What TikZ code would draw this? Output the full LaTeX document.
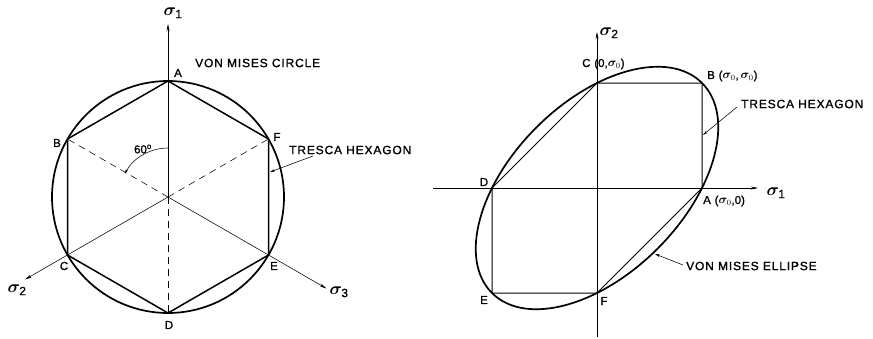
\documentclass[tikz,border=0pt]{standalone}
\usepackage{fontspec}
\usepackage{bm}
\setmainfont[FakeBold=1.2]{Liberation Sans}
\newfontfamily\lab[LetterSpace=7,FakeBold=1.2]{Liberation Sans}
\usetikzlibrary{arrows.meta}
\newcommand\sg[1]{$\bm{\sigma}_{\mathrm{#1}}$}
\begin{document}
\begin{tikzpicture}[x=1pt,y=-1pt,
  circ/.style={line width=1.7pt},
  hexL/.style={line width=1.5pt, line join=round},
  hexR/.style={line width=1pt, line join=round},
  axis/.style={line width=0.55pt},
  dashaxis/.style={line width=0.55pt, dash pattern=on 7pt off 5pt},
  tip/.style={-{Stealth[length=7pt,width=3pt]}},
  smalltip/.style={-{Stealth[length=5pt,width=2.5pt]}},
  ptlab/.style={font=\fontsize{11.5}{13}\selectfont, inner sep=0pt},
  caption/.style={font=\lab\fontsize{12}{14}\selectfont, inner sep=0pt, anchor=west},
  sig/.style={font=\fontsize{17}{19}\selectfont, inner sep=0pt},
]
\useasboundingbox (0,0) rectangle (873,338);

% ---------------- left: deviatoric plane ----------------
\coordinate (O) at (168,197);
\coordinate (A) at (168,81);
\coordinate (B) at (67.5,139);
\coordinate (C) at (67.5,255);
\coordinate (D) at (168,313);
\coordinate (E) at (268.5,255);
\coordinate (F) at (268.5,139);
\coordinate (s1tip) at (168,24);
\coordinate (s2tip) at (25,279.5);
\coordinate (s3tip) at (326.5,288.5);

\draw[circ] (O) circle[radius=116pt];
\draw[hexL] (A) -- (B) -- (C) -- (D) -- (E) -- (F) -- cycle;

\draw[axis,tip] (O) -- (s1tip);
\draw[dashaxis] (O) -- (D);
\draw[dashaxis] (O) -- (B);
\draw[dashaxis] (O) -- (F);
\draw[axis,tip] (O) -- (s2tip);
\draw[axis,tip] (O) -- (s3tip);

\draw[axis,smalltip] (168,148) arc[start angle=90,end angle=152,radius=49pt];
\node[ptlab] (ang) at (143,149) {60\textsuperscript{o}};

\node[sig] (l1) at (173,13) {\sg{1}};
\node[sig] (l2) at (17,290) {\sg{2}};
\node[sig] (l3) at (339,292) {\sg{3}};

\node[ptlab] (lA) at (178,73) {A};
\node[ptlab] (lB) at (57,143) {B};
\node[ptlab] (lC) at (64,266) {C};
\node[ptlab] (lD) at (169,325) {D};
\node[ptlab] (lE) at (274,266) {E};
\node[ptlab] (lF) at (277,137) {F};

\node[caption] (vmc) at (195,63) {VON MISES CIRCLE};
\node[caption] (trL) at (289,150) {TRESCA HEXAGON};
\coordinate (trLs) at (313,156);
\coordinate (trLe) at (270,172);
\draw[axis,smalltip] (trLs) -- (trLe);

% ---------------- right: plane stress ----------------
\coordinate (P) at (597,188);
\coordinate (RA) at (702,188);
\coordinate (RB) at (702,83);
\coordinate (RC) at (597,83);
\coordinate (RD) at (492,188);
\coordinate (RE) at (492,293);
\coordinate (RF) at (597,293);
\coordinate (x0) at (433,188);
\coordinate (x1) at (758,188);
\coordinate (y0) at (597,337);
\coordinate (y1) at (597,32);

\draw[axis,tip] (x0) -- (x1);
\draw[axis,tip] (y0) -- (y1);
\draw[hexR] (RA) -- (RB) -- (RC) -- (RD) -- (RE) -- (RF) -- cycle;
\draw[circ] (P) ellipse[x radius=148.5pt, y radius=85.7pt, rotate=45];

\node[sig] (r1) at (776,193) {\sg{1}};
\node[sig] (r2) at (609,33) {\sg{2}};

\node[ptlab,anchor=west] (rlC) at (582,64) {C\,\,(0,$\bm\sigma_0$)};
\node[ptlab,anchor=west] (rlB) at (707,76) {B\,\,($\bm\sigma_0$,\,$\bm\sigma_0$)};
\node[ptlab,anchor=west] (rlA) at (703,201) {A\,\,($\bm\sigma_0$,0)};
\node[ptlab] (rlD) at (484,182) {D};
\node[ptlab] (rlE) at (484,300) {E};
\node[ptlab] (rlF) at (604,301) {F};

\node[caption] (trR) at (741,104) {TRESCA HEXAGON};
\coordinate (trRs) at (737,107);
\coordinate (trRe) at (703,135);
\draw[axis,smalltip] (trRs) -- (trRe);

\node[caption] (vme) at (686,266) {VON MISES ELLIPSE};
\coordinate (vmes) at (683,265);
\coordinate (vmee) at (655,254);
\draw[axis,smalltip] (vmes) -- (vmee);
\end{tikzpicture}
\end{document}
